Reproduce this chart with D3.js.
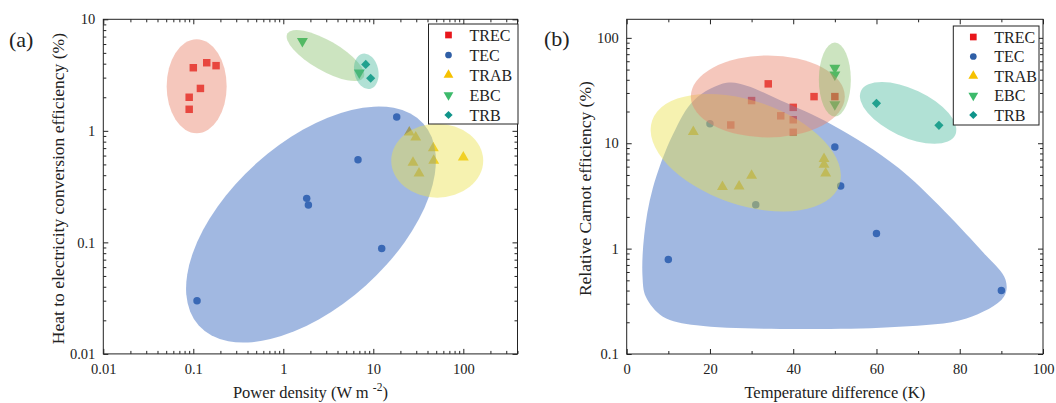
<!DOCTYPE html>
<html>
<head>
<meta charset="utf-8">
<script src="https://cdn.jsdelivr.net/npm/d3@7"></script>
<style>
  body { margin: 0; background: #fff; }
  svg text { font-family: 'Liberation Serif', 'Times New Roman', Times, serif; fill: #222; }
  .tick line { stroke: #222; }
</style>
</head>
<body>
<svg id="chart" width="1056" height="403"></svg>
<script>
const seriesNames = ['TREC', 'TEC', 'TRAB', 'EBC', 'TRB']

// (a) power density (W m-2) vs heat to electricity efficiency (%)
const aTREC = [[0.100, 3.68], [0.141, 4.08], [0.179, 3.84], [0.120, 2.40], [0.090, 2.00], [0.090, 1.56]]
const aTEC = [[18.2, 1.33], [6.76, 0.55], [1.82, 0.248], [1.90, 0.216], [12.4, 0.088], [0.11, 0.030]]
const aTRAB = [[25.1, 0.97], [29.6, 0.875], [46.4, 0.70], [27.6, 0.52], [46.9, 0.54], [32.2, 0.416], [100, 0.578]]
const aEBC = [[1.63, 6.38], [6.99, 3.32]]
const aTRB = [[8.24, 3.94], [9.35, 2.96]]
const aXTicks = [0.01, 0.1, 1, 10, 100]
const aYTicks = [0.01, 0.1, 1, 10]
// centres of the shaded groups
const aRegionCentres = { TEC: [2.03, 0.1445], TRAB: [51.3, 0.54], TREC: [0.109, 2.51], EBC: [2.94, 4.73], TRB: [8.36, 3.42] }

// (b) temperature difference (K) vs relative Carnot efficiency (%)
const bTREC = [[34, 36.6], [45, 27.7], [50, 27.7], [30, 25.4], [40, 21.9], [37, 18.2], [40, 16.7], [25, 14.9], [40, 12.7]]
const bTEC = [[20, 15.3], [50, 9.2], [51.4, 3.93], [31, 2.61], [60, 1.39], [10, 0.79], [90, 0.40]]
const bTRAB = [[16, 12.8], [47.4, 7.1], [47.4, 6.26], [47.8, 5.18], [30, 4.92], [23, 3.85], [27, 3.90]]
const bEBC = [[50, 51.9], [50, 44.8], [50, 23.3]]
const bTRB = [[60, 23.9], [75, 14.8]]
const bXTicks = [0, 20, 40, 60, 80, 100]
const bYTicks = [0.1, 1, 10, 100]
const bRegionCentres = { TRAB: [28.6, 8.13], TREC: [33.9, 27.8], EBC: [50, 40.2], TRB: [67.6, 19.4] }
// outline of the TEC group in (b)
const bTECEnvelope = [[24.0, 37.4], [28.8, 35.2], [37.0, 25.4], [49.2, 15.1], [65.4, 5.78], [85.7, 0.914],
  [91.0, 0.507], [90.6, 0.349], [81.6, 0.217], [65.4, 0.181], [41.1, 0.173], [16.8, 0.187], [8.7, 0.226],
  [4.6, 0.349], [3.8, 0.544], [4.2, 1.33], [6.25, 3.71], [11.1, 12.1], [16.3, 25.9]]

// styles
const serif = "'Liberation Serif', 'Times New Roman', serif"
const colors = { TREC: '#e8171c', TEC: '#2f5fa6', TRAB: '#f6c100', EBC: '#3dba6b', TRB: '#0f948a' }
const regionFill = {
  TREC: 'rgba(232,131,107,0.45)',
  TEC: 'rgba(68,114,196,0.5)',
  TRAB: 'rgba(236,226,80,0.45)',
  EBC: 'rgba(120,185,90,0.38)',
  TRB: 'rgba(60,180,150,0.4)'
}
// ellipse rx, ry (px) and rotation (deg)
const aRegionShape = { TEC: [151, 82, -42], TRAB: [46, 37, 0], TREC: [30, 47, 0], EBC: [44, 15, 30], TRB: [12, 18, -12] }
const bRegionShape = { TRAB: [99, 52, 19], TREC: [77, 41, 0], EBC: [16, 37, 0], TRB: [52, 24, 25] }

const symbols = {
  TREC: { type: d3.symbolSquare, size: 56, rot: 0 },
  TEC: { type: d3.symbolCircle, size: 44, rot: 0 },
  TRAB: { type: d3.symbolTriangle, size: 52, rot: 0 },
  EBC: { type: d3.symbolTriangle, size: 52, rot: 180 },
  TRB: { type: d3.symbolSquare, size: 42, rot: 45 }
}

const svg = d3.select('#chart')

function drawPanel (p) {
  const x = p.x
  const y = p.y
  const [x0, x1] = x.range()
  const [y0, y1] = y.range()
  const g = svg.append('g')

  const fmt = d => String(d)
  const tidy = sel => sel
    .attr('font-family', serif)
    .attr('font-size', 14.5)
    .call(s => s.select('.domain').remove())
    .call(s => s.selectAll('text').attr('fill', '#222'))

  // major + minor ticks, all pointing inwards
  g.append('g').attr('transform', `translate(0,${y0})`)
    .call(d3.axisBottom(x).tickValues(p.xTicks).tickFormat(fmt).tickSize(-5).tickPadding(10)).call(tidy)
  g.append('g').attr('transform', `translate(0,${y1})`)
    .call(d3.axisTop(x).tickValues(p.xTicks).tickFormat('').tickSize(-5)).call(tidy)
  g.append('g').attr('transform', `translate(${x0},0)`)
    .call(d3.axisLeft(y).tickValues(p.yTicks).tickFormat(fmt).tickSize(-5).tickPadding(8)).call(tidy)
  g.append('g').attr('transform', `translate(${x1},0)`)
    .call(d3.axisRight(y).tickValues(p.yTicks).tickFormat('').tickSize(-5)).call(tidy)

  const xMinor = p.xMinor.filter(v => !p.xTicks.includes(v))
  const yMinor = y.ticks().filter(v => !p.yTicks.some(t => Math.abs(t - v) < 1e-9))
  g.append('g').attr('transform', `translate(0,${y0})`)
    .call(d3.axisBottom(x).tickValues(xMinor).tickFormat('').tickSize(-3)).call(tidy)
  g.append('g').attr('transform', `translate(0,${y1})`)
    .call(d3.axisTop(x).tickValues(xMinor).tickFormat('').tickSize(-3)).call(tidy)
  g.append('g').attr('transform', `translate(${x0},0)`)
    .call(d3.axisLeft(y).tickValues(yMinor).tickFormat('').tickSize(-3)).call(tidy)
  g.append('g').attr('transform', `translate(${x1},0)`)
    .call(d3.axisRight(y).tickValues(yMinor).tickFormat('').tickSize(-3)).call(tidy)

  // points
  seriesNames.forEach(name => {
    const s = symbols[name]
    g.append('g').selectAll('path')
      .data(p.series[name])
      .enter().append('path')
      .attr('d', d3.symbol().type(s.type).size(s.size))
      .attr('transform', d => `translate(${x(d[0])},${y(d[1])}) rotate(${s.rot})`)
      .attr('fill', colors[name])
  })

  // shaded groups, over the points
  const regions = g.append('g')
  if (p.envelope) {
    regions.append('path')
      .datum(p.envelope)
      .attr('d', d3.line().x(d => x(d[0])).y(d => y(d[1])).curve(d3.curveCatmullRomClosed.alpha(0.5)))
      .attr('fill', regionFill.TEC)
  }
  Object.keys(p.centres).forEach(name => {
    const c = p.centres[name]
    const sh = p.shapes[name]
    regions.append('ellipse')
      .attr('transform', `translate(${x(c[0])},${y(c[1])}) rotate(${sh[2]})`)
      .attr('rx', sh[0])
      .attr('ry', sh[1])
      .attr('fill', regionFill[name])
  })

  // frame
  g.append('rect')
    .attr('x', x0).attr('y', y1)
    .attr('width', x1 - x0).attr('height', y0 - y1)
    .attr('fill', 'none').attr('stroke', '#222').attr('stroke-width', 1)

  // legend
  const lg = g.append('g')
  lg.append('rect')
    .attr('x', p.legend.x).attr('y', p.legend.y)
    .attr('width', p.legend.w).attr('height', p.legend.h)
    .attr('fill', '#fff').attr('stroke', '#222')
  seriesNames.forEach((name, i) => {
    const s = symbols[name]
    const ry = p.legend.y + 11 + i * p.legend.step
    lg.append('path')
      .attr('d', d3.symbol().type(s.type).size(s.size * 0.8))
      .attr('transform', `translate(${p.legend.x + 20},${ry}) rotate(${s.rot})`)
      .attr('fill', colors[name])
    lg.append('text')
      .attr('x', p.legend.x + 41).attr('y', ry + 5.5)
      .attr('font-size', 16)
      .text(name)
  })

  // titles
  g.append('text')
    .attr('x', p.tag[0]).attr('y', p.tag[1])
    .attr('font-size', 22)
    .text(p.tagText)
  const xt = g.append('text')
    .attr('x', (x0 + x1) / 2).attr('y', 397.5)
    .attr('text-anchor', 'middle')
    .attr('font-size', 16.5)
    .text(p.xTitle[0])
  if (p.xTitle[1]) {
    xt.append('tspan').attr('dy', -7).attr('font-size', 11.5).text(p.xTitle[1])
    xt.append('tspan').attr('dy', 7).text(p.xTitle[2])
  }
  g.append('text')
    .attr('transform', `translate(${p.yTitleX},${(y0 + y1) / 2 + 2}) rotate(-90)`)
    .attr('text-anchor', 'middle')
    .attr('font-size', 17.5)
    .text(p.yTitle)
}

const axA = d3.scaleLog().domain([0.01, 400]).range([103.3, 517.5])
const ayA = d3.scaleLog().domain([0.01, 10]).range([353.9, 19.3])
drawPanel({
  x: axA,
  y: ayA,
  xTicks: aXTicks,
  yTicks: aYTicks,
  xMinor: axA.ticks(),
  series: { TREC: aTREC, TEC: aTEC, TRAB: aTRAB, EBC: aEBC, TRB: aTRB },
  centres: aRegionCentres,
  shapes: aRegionShape,
  legend: { x: 428.5, y: 24, w: 89.5, h: 100, step: 20 },
  tag: [9, 47],
  tagText: '(a)',
  xTitle: ['Power density (W m ', '-2', ')'],
  yTitle: 'Heat to electricity conversion efficiency (%)',
  yTitleX: 64
})

const bxA = d3.scaleLinear().domain([0, 100]).range([626.7, 1043])
const byA = d3.scaleLog().domain([0.1, 150]).range([354, 19.3])
drawPanel({
  x: bxA,
  y: byA,
  xTicks: bXTicks,
  yTicks: bYTicks,
  xMinor: d3.range(10, 100, 20),
  series: { TREC: bTREC, TEC: bTEC, TRAB: bTRAB, EBC: bEBC, TRB: bTRB },
  centres: bRegionCentres,
  shapes: bRegionShape,
  envelope: bTECEnvelope,
  legend: { x: 953.3, y: 26, w: 85.7, h: 99, step: 19.5 },
  tag: [544, 46],
  tagText: '(b)',
  xTitle: ['Temperature difference (K)'],
  yTitle: 'Relative Carnot efficiency (%)',
  yTitleX: 591
})
</script>
</body>
</html>
